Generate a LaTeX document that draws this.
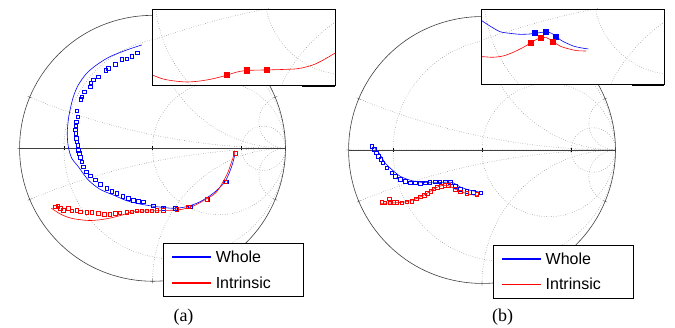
\documentclass[border=0pt]{standalone}
\usepackage{fontspec}
\setmainfont{Liberation Serif}
\setsansfont{Liberation Sans}
\usepackage{pgfplots}
\pgfplotsset{compat=1.18}
\usepgfplotslibrary{smithchart}
\definecolor{lgblueA}{rgb}{0,0,0.997}
\definecolor{lgredA}{rgb}{0.997,0,0}
\definecolor{lgblueB}{rgb}{0,0,0.996}
\definecolor{lgredB}{rgb}{0.996,0,0}

\pgfplotsset{
  mysmith/.style={
    scale only axis,
    xtick={0.2,1,5},
    ytick={-5,-1,-0.2,0,0.2,1,5},
    xticklabels={{},{},{}},
    yticklabels={{},{},{},{},{},{},{}},
    tick style={draw=none},
    grid=major,
    major grid style={dotted, black!60, line width=0.5pt},
    axis line style={black!75, line width=0.6pt},
  },
  mylegend/.style={
    legend cell align=left,
    legend style={draw=black, line width=0.5pt, fill=white,
      inner xsep=9pt, inner ysep=8pt, row sep=14pt, column sep=5pt,
      nodes={inner sep=0pt, text depth=0pt},
      font=\fontsize{16}{19}\sffamily,
      anchor=north west},
  },
  legimg/.style={legend image code/.code={\fill[#1] (0pt,-0.3pt) rectangle (38pt,0.3pt);}},
  bline/.style={blue, line width=0.6pt, is smithchart cs, mark=none},
  rline/.style={red, line width=0.6pt, is smithchart cs, mark=none},
  bmark/.style={blue, is smithchart cs, only marks, mark=square, mark size=1.8pt, mark options={line width=0.5pt}},
  rmark/.style={red, is smithchart cs, only marks, mark=square, mark size=1.8pt, mark options={line width=0.5pt}},
  bfill/.style={blue, is smithchart cs, only marks, mark=square*, mark size=2.6pt},
  rfill/.style={red, is smithchart cs, only marks, mark=square*, mark size=2.6pt},
}

\begin{document}
\begin{tikzpicture}[x=1pt,y=1pt]

% ---------------- (a) main ----------------
\begin{smithchart}[mysmith, mylegend, width=266pt, at={(152.5pt,179.7pt)}, anchor=center,
  legend style={at={(axis description cs:0.5395,0.144)}}]
\addlegendimage{legimg=lgblueA}
\addlegendentry{Whole}
\addlegendimage{legimg=lgredA}
\addlegendentry{Intrinsic\hspace*{23pt}}
\addplot[bmark, forget plot] coordinates {
(-0.114,0.719) (-0.156,0.694) (-0.194,0.674) (-0.232,0.669) (-0.282,0.632)
(-0.332,0.602) (-0.350,0.589) (-0.408,0.538) (-0.445,0.514) (-0.465,0.494)
(-0.470,0.463) (-0.515,0.426) (-0.532,0.388) (-0.540,0.368) (-0.570,0.283)
(-0.562,0.238) (-0.575,0.200) (-0.577,0.168) (-0.580,0.138) (-0.577,0.113)
(-0.575,0.075) (-0.570,0.050) (-0.562,0.025) (-0.558,-0.013) (-0.553,-0.038)
(-0.545,-0.068) (-0.532,-0.101) (-0.520,-0.138) (-0.500,-0.176) (-0.470,-0.206)
(-0.432,-0.238) (-0.395,-0.271) (-0.344,-0.301) (-0.307,-0.321) (-0.269,-0.338)
(-0.224,-0.359) (-0.182,-0.376) (-0.144,-0.389) (-0.107,-0.396) (-0.069,-0.402)
(0.006,-0.432) (0.081,-0.451) (0.169,-0.451) (0.282,-0.439) (0.412,-0.381)
(0.553,-0.251) (0.620,-0.038)};
\addplot[bline, smooth, forget plot] coordinates {
(-0.081,0.777) (-0.194,0.739) (-0.320,0.689) (-0.420,0.627) (-0.495,0.564)
(-0.558,0.476) (-0.595,0.388) (-0.620,0.288) (-0.633,0.213) (-0.641,0.113)
(-0.633,0.012) (-0.608,-0.073) (-0.558,-0.138) (-0.483,-0.238) (-0.395,-0.308)
(-0.295,-0.351) (-0.194,-0.394) (-0.094,-0.419) (0.032,-0.439) (0.156,-0.451)
(0.257,-0.439) (0.357,-0.402) (0.457,-0.338) (0.545,-0.251) (0.595,-0.138)
(0.620,-0.043)};
\addplot[rmark, forget plot] coordinates {
(-0.733,-0.439) (-0.711,-0.434) (-0.695,-0.451) (-0.671,-0.464) (-0.633,-0.451)
(-0.608,-0.469) (-0.570,-0.464) (-0.545,-0.477) (-0.495,-0.481) (-0.457,-0.481)
(-0.408,-0.489) (-0.365,-0.496) (-0.320,-0.494) (-0.282,-0.489) (-0.245,-0.484)
(-0.194,-0.481) (-0.156,-0.477) (-0.119,-0.471) (-0.081,-0.469) (-0.044,-0.469)
(-0.006,-0.469) (0.032,-0.466) (0.081,-0.464) (0.182,-0.459) (0.269,-0.439)
(0.408,-0.383) (0.545,-0.251) (0.620,-0.038)};
\addplot[rline, smooth, forget plot] coordinates {
(0.620,-0.026) (0.595,-0.101) (0.558,-0.201) (0.483,-0.326) (0.410,-0.378)
(0.316,-0.430) (0.255,-0.451) (0.195,-0.463) (0.113,-0.467) (0.013,-0.470)
(-0.105,-0.473) (-0.169,-0.483) (-0.230,-0.502) (-0.311,-0.523) (-0.392,-0.537)
(-0.472,-0.543) (-0.553,-0.536) (-0.614,-0.525) (-0.675,-0.503) (-0.720,-0.478)
(-0.760,-0.450)};
\end{smithchart}

% ---------------- (a) inset ----------------
\fill[white] (152.3,243) rectangle (335,319);
\begin{scope}
\clip (152.3,243) rectangle (335,319);
\begin{smithchart}[mysmith, width=330pt, at={(264.6pt,335.6pt)}, anchor=center]
\addplot[rline, smooth] coordinates {
(0.620,-0.026) (0.595,-0.101) (0.558,-0.201) (0.483,-0.326) (0.410,-0.378)
(0.316,-0.430) (0.255,-0.451) (0.195,-0.463) (0.113,-0.467) (0.013,-0.470)
(-0.105,-0.473) (-0.169,-0.483) (-0.230,-0.502) (-0.311,-0.523) (-0.392,-0.537)
(-0.472,-0.543) (-0.553,-0.536) (-0.614,-0.525) (-0.675,-0.503) (-0.720,-0.478)
(-0.760,-0.450)};
\addplot[rfill] coordinates {(-0.228,-0.501) (-0.107,-0.472) (0.015,-0.470)};
\end{smithchart}
\end{scope}
\draw[black, line width=0.8pt] (152.3,243) rectangle (335,319);
\draw[black, line width=2pt] (302,242) -- (335,242);

% ---------------- (b) main ----------------
\begin{smithchart}[mysmith, mylegend, width=267pt, at={(482pt,178pt)}, anchor=center,
  legend style={at={(axis description cs:0.541,0.146)}}]
\addlegendimage{legimg=lgblueB}
\addlegendentry{Whole}
\addlegendimage{legimg=lgredB}
\addlegendentry{Intrinsic\hspace*{23pt}}
\addplot[bmark, forget plot] coordinates {
(-0.826,0.028) (-0.809,0.004) (-0.794,-0.021) (-0.777,-0.046) (-0.759,-0.071)
(-0.744,-0.096) (-0.714,-0.133) (-0.676,-0.171) (-0.652,-0.196) (-0.614,-0.221)
(-0.577,-0.234) (-0.539,-0.246) (-0.502,-0.246) (-0.464,-0.251) (-0.427,-0.246)
(-0.390,-0.241) (-0.352,-0.238) (-0.315,-0.238) (-0.277,-0.238) (-0.240,-0.241)
(-0.202,-0.271) (-0.165,-0.296) (-0.115,-0.309) (-0.065,-0.316) (-0.010,-0.321)};
\addplot[bline, smooth, forget plot] coordinates {
(-0.814,0.028) (-0.764,-0.034) (-0.727,-0.096) (-0.676,-0.146) (-0.614,-0.196)
(-0.539,-0.226) (-0.464,-0.241) (-0.365,-0.246) (-0.264,-0.241) (-0.215,-0.246)
(-0.165,-0.276) (-0.090,-0.301) (-0.015,-0.316)};
\addplot[rmark, forget plot] coordinates {
(-0.751,-0.393) (-0.727,-0.396) (-0.694,-0.366) (-0.689,-0.396) (-0.664,-0.391)
(-0.639,-0.391) (-0.601,-0.396) (-0.564,-0.388) (-0.527,-0.384) (-0.494,-0.366)
(-0.464,-0.351) (-0.434,-0.341) (-0.410,-0.326) (-0.384,-0.309) (-0.360,-0.291)
(-0.335,-0.279) (-0.307,-0.271) (-0.279,-0.266) (-0.252,-0.266) (-0.202,-0.296)
(-0.165,-0.313) (-0.115,-0.326) (-0.040,-0.333)};
\addplot[rline, smooth, forget plot] coordinates {
(-0.760,-0.400) (-0.700,-0.398) (-0.640,-0.395) (-0.580,-0.390) (-0.520,-0.375)
(-0.460,-0.350) (-0.410,-0.323) (-0.360,-0.292) (-0.320,-0.272) (-0.280,-0.264)
(-0.250,-0.268) (-0.220,-0.283) (-0.165,-0.310) (-0.090,-0.333) (-0.028,-0.341)};
\end{smithchart}

% ---------------- (b) inset ----------------
\fill[white] (481.7,243.5) rectangle (664.3,319);
\begin{scope}
\clip (481.7,243.5) rectangle (664.3,319);
\begin{smithchart}[mysmith, width=330pt, at={(593.6pt,335.6pt)}, anchor=center]
\addplot[bline, smooth] coordinates {
(-0.720,-0.140) (-0.690,-0.163) (-0.668,-0.178) (-0.628,-0.204) (-0.567,-0.238)
(-0.507,-0.248) (-0.446,-0.254) (-0.385,-0.252) (-0.355,-0.248) (-0.290,-0.240)
(-0.254,-0.248) (-0.228,-0.268) (-0.193,-0.293) (-0.163,-0.308) (-0.123,-0.325)
(-0.082,-0.335) (-0.032,-0.343)};
\addplot[rline, smooth] coordinates {
(-0.720,-0.388) (-0.668,-0.390) (-0.608,-0.393) (-0.547,-0.385) (-0.487,-0.363)
(-0.426,-0.333) (-0.379,-0.305) (-0.345,-0.284) (-0.321,-0.275) (-0.284,-0.275)
(-0.244,-0.299) (-0.204,-0.325) (-0.163,-0.339) (-0.102,-0.353) (-0.046,-0.355)};
\addplot[bfill] coordinates {(-0.355,-0.246) (-0.288,-0.240) (-0.228,-0.270)};
\addplot[rfill] coordinates {(-0.379,-0.307) (-0.319,-0.276) (-0.246,-0.301)};
\end{smithchart}
\end{scope}
\draw[black, line width=0.8pt] (481.7,243.5) rectangle (664.3,319);
\draw[black, line width=2pt] (632,242.5) -- (664.3,242.5);

% captions
\node[font=\fontsize{18}{20}\selectfont] at (183.5,11) {(a)};
\node[font=\fontsize{18}{20}\selectfont] at (502.5,11) {(b)};

\pgfresetboundingbox
\path[use as bounding box] (0,0) rectangle (675,328);
\end{tikzpicture}
\end{document}
